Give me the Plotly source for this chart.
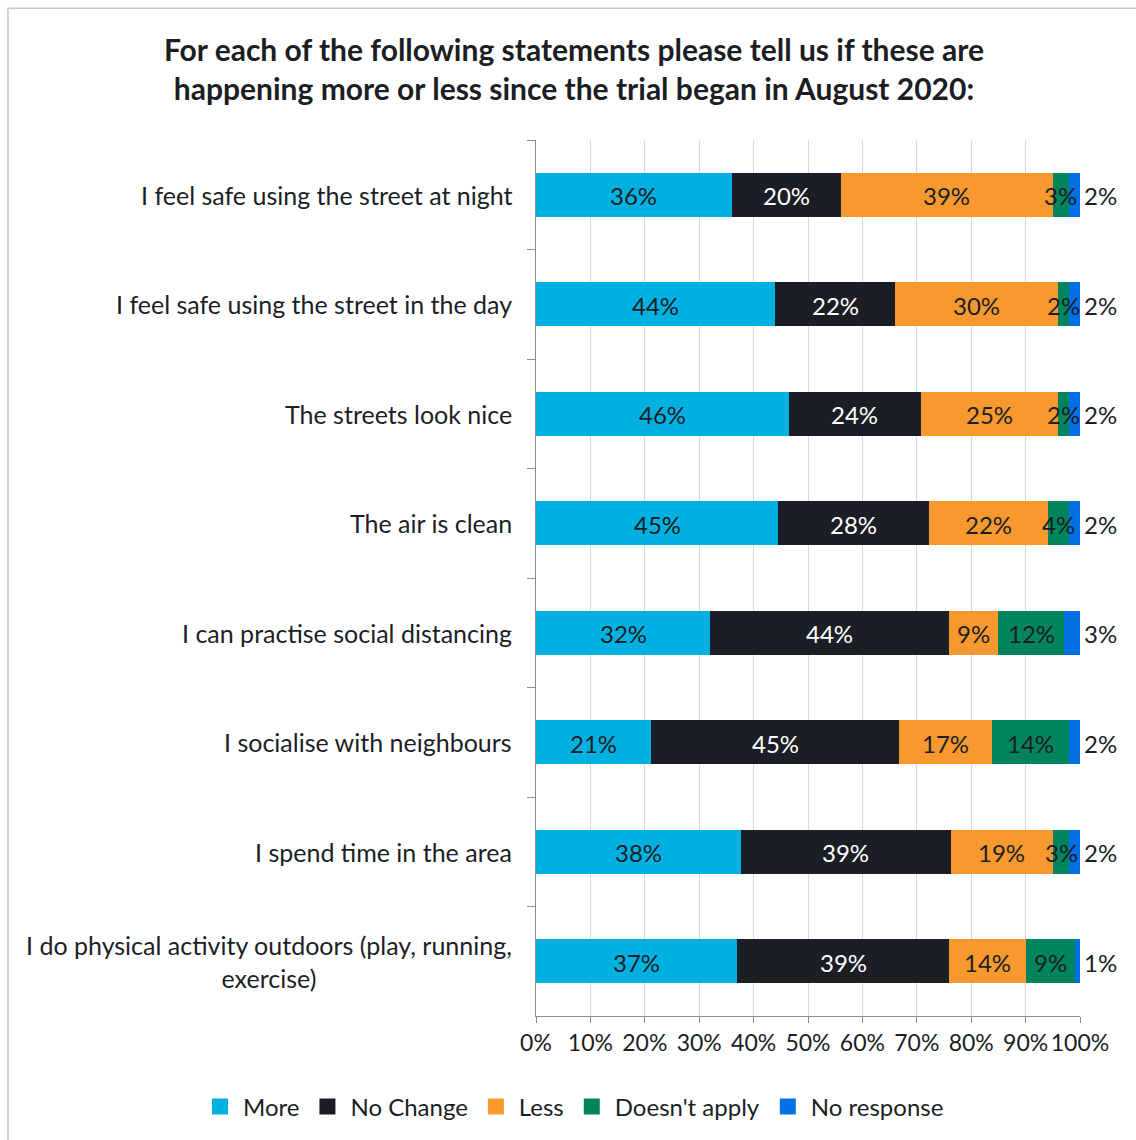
import plotly.graph_objects as go

# Survey statements (top to bottom) and response shares in percent
statements = [
    "I feel safe using the street at night",
    "I feel safe using the street in the day",
    "The streets look nice",
    "The air is clean",
    "I can practise social distancing",
    "I socialise with neighbours",
    "I spend time in the area",
    "I do physical activity outdoors (play, running,<br>exercise)",
]
more = [36, 44, 46, 45, 32, 21, 38, 37]
no_change = [20, 22, 24, 28, 44, 45, 39, 39]
less = [39, 30, 25, 22, 9, 17, 19, 14]
doesnt_apply = [3, 2, 2, 4, 12, 14, 3, 9]
no_response = [2, 2, 2, 2, 3, 2, 2, 1]

series_names = ["More", "No Change", "Less", "Doesn't apply", "No response"]
series_values = [more, no_change, less, doesnt_apply, no_response]
series_colors = ["#00B0E0", "#1B1E25", "#F7992E", "#00845E", "#0070E4"]
label_colors = ["#1B1E25", "#FFFFFF", "#1B1E25", "#1B1E25", "#1B1E25"]

FONT = "Lato"
TEXT = "#1B1E25"
FS = 24

fig = go.Figure()

# 100% stacked horizontal bars (each row normalised to its total)
for name, vals, col in zip(series_names, series_values, series_colors):
    fig.add_trace(go.Bar(
        y=statements, x=vals, name=name, orientation="h",
        marker=dict(color=col, line=dict(width=0)),
        width=0.4, hoverinfo="skip", showlegend=False,
    ))

# Legend entries with larger square swatches
for name, col in zip(series_names, series_colors):
    fig.add_trace(go.Scatter(
        x=[None], y=[None], mode="markers", name=name,
        marker=dict(symbol="square", size=16, color=col),
        hoverinfo="skip",
    ))

# Value labels: centred in each segment, last series just past the bar end
totals = [sum(v[r] for v in series_values) for r in range(len(statements))]
cum = [0] * len(statements)
for i, (vals, tcol) in enumerate(zip(series_values, label_colors)):
    last = i == len(series_values) - 1
    for r, s in enumerate(statements):
        start = cum[r] / totals[r] * 100
        share = vals[r] / totals[r] * 100
        fig.add_annotation(
            x=start + share if last else start + share / 2, xref="x",
            y=s, yref="y",
            xanchor="left" if last else "center", yanchor="middle",
            xshift=2 if last else 0, yshift=-1,
            text=f"{vals[r]}%", showarrow=False,
            font=dict(family=FONT, size=FS, color=TEXT if last else tcol),
        )
    cum = [c + v for c, v in zip(cum, vals)]

# Category labels, centred across lines and right-aligned against the axis
for s in statements:
    fig.add_annotation(
        x=0, xref="paper", y=s, yref="y", xanchor="right", yanchor="middle",
        xshift=-22, text=s, align="center", showarrow=False,
        font=dict(family=FONT, size=25, color=TEXT),
    )

# Outer frame
fig.add_shape(
    type="rect", xref="paper", yref="paper",
    x0=(8 - 536) / 544, x1=(1140 - 536) / 544,
    y0=1 - (1144 - 140) / 877, y1=1 - (8 - 140) / 877,
    line=dict(color="#C8C8C8", width=1.5), fillcolor="rgba(0,0,0,0)", layer="below",
)

fig.update_layout(
    width=1136, height=1140,
    margin=dict(l=536, r=56, t=140, b=123),
    barmode="stack", barnorm="percent",
    plot_bgcolor="white", paper_bgcolor="white",
    font=dict(family=FONT, size=FS, color=TEXT),
    title=dict(
        text="<b>For each of the following statements please tell us if these are<br>"
             "happening more or less since the trial began in August 2020:</b>",
        x=574 / 1136, xanchor="center", xref="container",
        y=1 - 61 / 1140, yanchor="middle", yref="container",
        font=dict(family=FONT, size=30, color=TEXT),
    ),
    xaxis=dict(
        range=[0, 100], dtick=10, ticksuffix="%",
        showgrid=True, gridcolor="#D9D9D9", gridwidth=1.2, zeroline=False,
        showline=True, linecolor="#8C8C8C", linewidth=1.2,
        ticks="outside", ticklen=6, tickcolor="#8C8C8C",
        tickfont=dict(family=FONT, size=23, color=TEXT),
        fixedrange=True,
    ),
    yaxis=dict(
        categoryorder="array", categoryarray=statements, autorange="reversed",
        showticklabels=False, tickson="boundaries",
        ticks="outside", ticklen=8, tickcolor="#8C8C8C",
        showline=True, linecolor="#8C8C8C", linewidth=1.2,
        showgrid=False, zeroline=False, fixedrange=True,
    ),
    legend=dict(
        orientation="h", xref="paper", yref="paper",
        x=(197 - 536) / 544, xanchor="left",
        y=1 - (1107 - 140) / 877, yanchor="middle",
        font=dict(family=FONT, size=FS, color=TEXT),
        traceorder="normal", itemclick=False, itemwidth=36,
    ),
)

fig.write_html("out.html")
